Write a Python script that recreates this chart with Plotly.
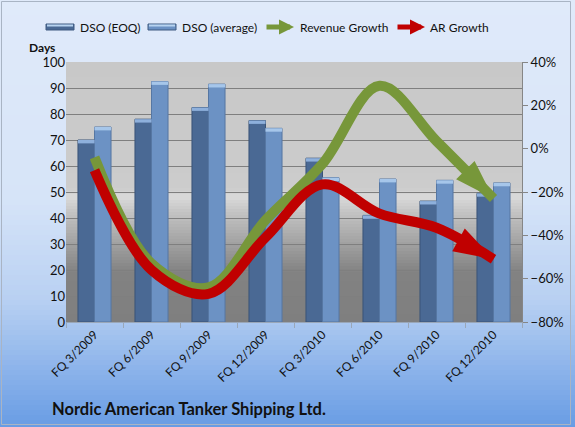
import plotly.graph_objects as go

quarters = ["FQ 3/2009", "FQ 6/2009", "FQ 9/2009", "FQ 12/2009",
            "FQ 3/2010", "FQ 6/2010", "FQ 9/2010", "FQ 12/2010"]
dso_eoq = [70, 78, 82.5, 77.5, 63, 41, 46.5, 49.5]
dso_avg = [75, 92.5, 91.5, 74.5, 55.5, 55, 54.5, 53.5]
revenue_growth = [-4, -53, -64, -33, -7, 29, 3.5, -23]
ar_growth = [-10, -56, -67, -41, -16.5, -30, -36.5, -51]

W, H = 575, 427
L, R, T, B = 66, 522, 62, 322


def px2x(px):
    return (px - L) / (R - L)


def px2y(py):
    return (B - py) / (B - T)


def interp(stops, t):
    for (t0, c0), (t1, c1) in zip(stops, stops[1:]):
        if t0 <= t <= t1:
            f = (t - t0) / (t1 - t0) if t1 > t0 else 0
            return "rgb(%d,%d,%d)" % tuple(round(a + (b - a) * f) for a, b in zip(c0, c1))
    return "rgb(%d,%d,%d)" % stops[-1][1]


shapes = []
# page gradient
page_stops = [(0, (224, 234, 250)), (200, (214, 228, 248)), (300, (184, 208, 242)), (427, (104, 156, 228))]
step = 5
for y0 in range(0, H, step):
    shapes.append(dict(type="rect", xref="paper", yref="paper", layer="below",
                       x0=px2x(0), x1=px2x(W), y0=px2y(y0 + step + 0.5), y1=px2y(y0),
                       line=dict(width=0), fillcolor=interp(page_stops, y0 + step / 2)))
# plot area gradient
plot_stops = [(62, (200, 200, 200)), (188, (204, 204, 204)), (197, (218, 218, 218)),
              (212, (196, 196, 196)), (272, (130, 130, 130)), (322, (127, 127, 127))]
step = 3
for y0 in range(T, B, step):
    y1 = min(y0 + step + 0.5, B)
    shapes.append(dict(type="rect", xref="paper", yref="paper", layer="below",
                       x0=0, x1=1, y0=px2y(y1), y1=px2y(y0),
                       line=dict(width=0), fillcolor=interp(plot_stops, y0 + step / 2)))
# page border
shapes.append(dict(type="rect", xref="paper", yref="paper", layer="below",
                   x0=px2x(1.5), x1=px2x(W - 4.5), y0=px2y(H - 2.5), y1=px2y(1.5),
                   line=dict(width=1, color="#a9b4c4"), fillcolor="rgba(0,0,0,0)"))

eoq_color = "#4a6994"
avg_color = "#6c92c4"
cap_color = "#a6c6ea"

# legend swatches
for x0, col in [(46, eoq_color), (148, avg_color)]:
    shapes.append(dict(type="rect", xref="paper", yref="paper", layer="above",
                       x0=px2x(x0), x1=px2x(x0 + 28), y0=px2y(30), y1=px2y(24),
                       line=dict(width=1, color="#3e5a80"), fillcolor=col))
    shapes.append(dict(type="rect", xref="paper", yref="paper", layer="above",
                       x0=px2x(x0 + 1), x1=px2x(x0 + 27), y0=px2y(26.5), y1=px2y(24.5),
                       line=dict(width=0), fillcolor="#b8d4f0"))

annotations = []
font = "Lato, 'Open Sans', sans-serif"
for x, text in [(78, "DSO (EOQ)"), (180, "DSO (average)"), (298, "Revenue Growth"), (428, "AR Growth")]:
    annotations.append(dict(xref="paper", yref="paper", x=px2x(x), y=px2y(27),
                            text=text, showarrow=False, xanchor="left", yanchor="middle",
                            font=dict(size=12, color="#111", family=font)))
for x0, col in [(265, "#77973a"), (396, "#c00000")]:
    annotations.append(dict(xref="paper", yref="paper", x=px2x(x0 + 29), y=px2y(27),
                            axref="pixel", ayref="pixel", ax=-29, ay=0,
                            text="", showarrow=True, arrowhead=2, arrowsize=0.6,
                            arrowwidth=5, arrowcolor=col))
annotations.append(dict(xref="paper", yref="paper", x=px2x(27), y=px2y(47), text="<b>Days</b>",
                        showarrow=False, xanchor="left", yanchor="middle",
                        font=dict(size=12, color="#111", family=font)))
annotations.append(dict(xref="paper", yref="paper", x=px2x(50), y=px2y(409),
                        text="<b>Nordic American Tanker Shipping Ltd.</b>",
                        showarrow=False, xanchor="left", yanchor="middle",
                        font=dict(size=16.5, color="#111", family=font)))

fig = go.Figure()
fig.add_trace(go.Bar(x=quarters, y=dso_eoq, name="DSO (EOQ)", offsetgroup="eoq",
                     marker=dict(color=eoq_color, line=dict(color="#3a5478", width=1))))
fig.add_trace(go.Bar(x=quarters, y=dso_avg, name="DSO (average)", offsetgroup="avg",
                     marker=dict(color=avg_color, line=dict(color="#5677a3", width=1))))
cap = 1.3
fig.add_trace(go.Bar(x=quarters, y=[cap] * len(dso_eoq), base=[v - cap for v in dso_eoq],
                     offsetgroup="eoq", hoverinfo="skip",
                     marker=dict(color="#8eb0dc", line=dict(width=0))))
fig.add_trace(go.Bar(x=quarters, y=[cap] * len(dso_avg), base=[v - cap for v in dso_avg],
                     offsetgroup="avg", hoverinfo="skip",
                     marker=dict(color=cap_color, line=dict(width=0))))

n = len(quarters)
for vals, col, name in [(revenue_growth, "#77973a", "Revenue Growth"), (ar_growth, "#c00000", "AR Growth")]:
    fig.add_trace(go.Scatter(x=quarters, y=vals, name=name, yaxis="y2", mode="lines+markers",
                             line=dict(color=col, width=10, shape="spline", smoothing=1.0),
                             marker=dict(symbol="arrow", angleref="previous", opacity=1,
                                         size=[0] * (n - 1) + [42], color=col,
                                         line=dict(width=0))))

fig.update_layout(
    width=W, height=H,
    margin=dict(l=L, r=W - R, t=T, b=H - B, pad=0),
    paper_bgcolor="#dfe9f9", plot_bgcolor="rgba(0,0,0,0)",
    showlegend=False, barmode="group", bargap=0.42, bargroupgap=0,
    font=dict(family=font, size=12, color="#111"),
    shapes=shapes, annotations=annotations,
    xaxis=dict(type="category", range=[-0.5, n - 0.5], autorange=False,
               tickangle=-45, ticks="outside", ticklen=5, tickson="boundaries",
               tickcolor="#9aa7b8", showline=True, linecolor="#9aa7b8", linewidth=1,
               showgrid=False, tickfont=dict(size=12)),
    yaxis=dict(range=[0, 100], dtick=10, showgrid=True, gridcolor="#7f7f7f", gridwidth=1,
               showline=False, zeroline=False, ticks="", tickfont=dict(size=13)),
    yaxis2=dict(range=[-80, 40], dtick=20, overlaying="y", side="right", showgrid=False,
                zeroline=False, ticksuffix="%", showline=True, linecolor="#868686", linewidth=1,
                ticks="outside", ticklen=5, tickcolor="#868686", tickfont=dict(size=13)),
)

fig.write_html("out.html")
